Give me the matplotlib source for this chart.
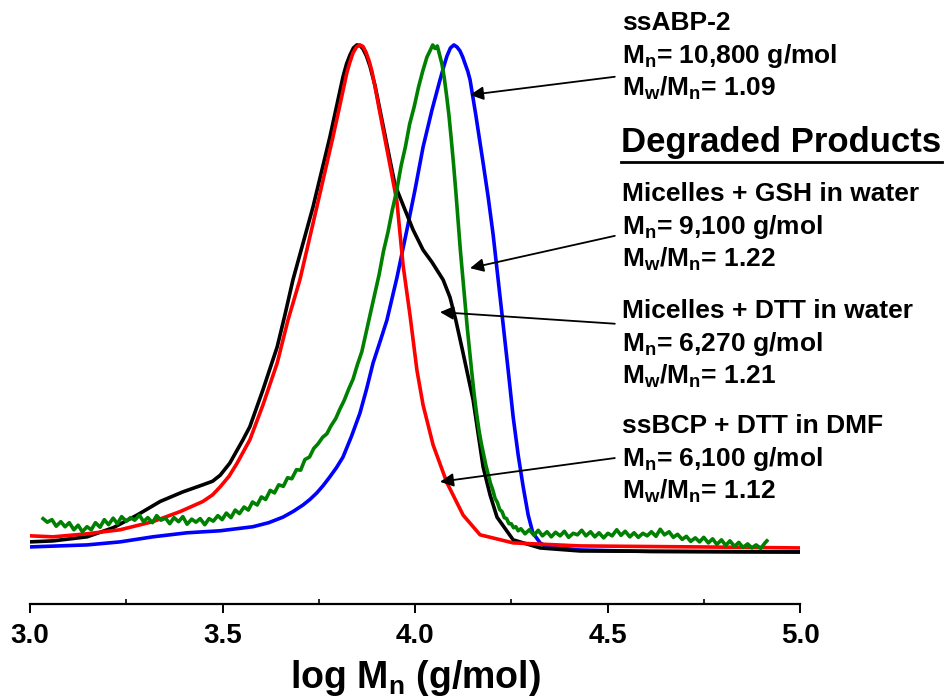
import matplotlib
matplotlib.use("Agg")
import matplotlib.pyplot as plt

plt.rcParams['font.family'] = ['Liberation Sans', 'DejaVu Sans']
plt.rcParams['font.weight'] = 'bold'
plt.rcParams['mathtext.fontset'] = 'custom'
plt.rcParams['mathtext.rm'] = 'Liberation Sans:bold'
plt.rcParams['mathtext.it'] = 'Liberation Sans:bold'
plt.rcParams['mathtext.bf'] = 'Liberation Sans:bold'
plt.rcParams['mathtext.default'] = 'regular'

# ssABP-2 (blue)
blue_x = [3.000, 3.148, 3.234, 3.319, 3.408, 3.494, 3.579, 3.620, 3.657, 3.683,
          3.709, 3.727, 3.745, 3.762, 3.779, 3.796, 3.813, 3.835, 3.857, 3.874,
          3.891, 3.909, 3.927, 3.953, 3.979, 4.000, 4.021, 4.044, 4.065,
          4.075, 4.083, 4.092, 4.101, 4.109, 4.117, 4.124, 4.130, 4.137, 4.143,
          4.158, 4.177, 4.190, 4.203, 4.216, 4.229, 4.242, 4.255, 4.268, 4.281,
          4.294, 4.306, 4.325, 4.343, 4.429, 4.610, 5.000]
blue_y = [0.006, 0.010, 0.016, 0.026, 0.034, 0.038, 0.046, 0.054, 0.065, 0.076,
          0.089, 0.100, 0.113, 0.128, 0.145, 0.163, 0.184, 0.225, 0.271, 0.318,
          0.370, 0.412, 0.455, 0.539, 0.634, 0.713, 0.798, 0.871, 0.931,
          0.958, 0.978, 0.994, 1.000, 0.996, 0.988, 0.976, 0.963, 0.948, 0.931,
          0.861, 0.766, 0.699, 0.624, 0.535, 0.446, 0.356, 0.263, 0.188, 0.125,
          0.069, 0.034, 0.014, 0.006, 0.000, -0.003, -0.004]

# ssBCP + DTT in DMF (red)
red_x = [3.000, 3.060, 3.148, 3.234, 3.319, 3.390, 3.449, 3.474, 3.494, 3.517,
         3.538, 3.571, 3.605, 3.642, 3.670, 3.701, 3.745, 3.787, 3.805, 3.823,
         3.831, 3.839, 3.848, 3.857, 3.865, 3.873, 3.881, 3.888, 3.898, 3.909,
         3.930, 3.953, 3.969, 3.987, 4.005, 4.021, 4.047, 4.083, 4.125, 4.169,
         4.255, 4.429, 4.740, 5.000]
red_y = [0.028, 0.026, 0.032, 0.040, 0.056, 0.076, 0.096, 0.109, 0.125, 0.146,
         0.172, 0.218, 0.287, 0.370, 0.455, 0.535, 0.679, 0.818, 0.881, 0.945,
         0.966, 0.984, 0.996, 1.000, 0.997, 0.985, 0.968, 0.948, 0.910, 0.865,
         0.782, 0.690, 0.564, 0.465, 0.356, 0.287, 0.208, 0.133, 0.069, 0.030,
         0.014, 0.008, 0.006, 0.004]

# Micelles + DTT in water (black)
black_x = [3.000, 3.060, 3.148, 3.216, 3.278, 3.338, 3.397, 3.449, 3.474, 3.494,
           3.519, 3.553, 3.571, 3.605, 3.642, 3.662, 3.683, 3.735, 3.779, 3.813,
           3.822, 3.831, 3.840, 3.849, 3.857, 3.865, 3.874, 3.883, 3.896, 3.909,
           3.935, 3.948, 3.969, 3.995, 4.021, 4.044, 4.073, 4.091, 4.106, 4.122,
           4.151, 4.177, 4.195, 4.213, 4.255, 4.325, 4.429, 5.000]
black_y = [0.016, 0.018, 0.026, 0.044, 0.069, 0.096, 0.115, 0.129, 0.136, 0.148,
           0.172, 0.218, 0.244, 0.317, 0.402, 0.465, 0.535, 0.679, 0.818, 0.937,
           0.962, 0.980, 0.994, 1.000, 0.999, 0.992, 0.978, 0.958, 0.920, 0.871,
           0.772, 0.723, 0.683, 0.634, 0.594, 0.570, 0.535, 0.500, 0.455, 0.400,
           0.297, 0.164, 0.109, 0.065, 0.020, 0.004, -0.002, -0.004]

# Micelles + GSH in water (green)
green_x = [3.034, 3.045, 3.057, 3.068, 3.080, 3.091, 3.102, 3.114, 3.125, 3.136,
           3.148, 3.159, 3.170, 3.182, 3.193, 3.204, 3.216, 3.227, 3.238, 3.250,
           3.261, 3.272, 3.284, 3.295, 3.306, 3.318, 3.329, 3.340, 3.352, 3.363,
           3.374, 3.386, 3.397, 3.408, 3.420, 3.431, 3.442, 3.454, 3.465, 3.476,
           3.488, 3.499, 3.510, 3.522, 3.533, 3.544, 3.556, 3.567, 3.578, 3.590,
           3.601, 3.612, 3.624, 3.635, 3.646, 3.658, 3.669, 3.680, 3.692, 3.703,
           3.714, 3.726, 3.737, 3.748, 3.760, 3.771, 3.782, 3.794, 3.805, 3.816,
           3.828, 3.839, 3.850, 3.862, 3.873, 3.884, 3.896, 3.907, 3.918, 3.930,
           3.941, 3.952, 3.964, 3.975, 3.986, 3.998, 4.009, 4.020, 4.031, 4.040,
           4.046, 4.052, 4.058, 4.064, 4.070, 4.076, 4.082, 4.088, 4.094, 4.100,
           4.106, 4.112, 4.118, 4.124, 4.130, 4.136, 4.142, 4.148, 4.154, 4.160,
           4.166, 4.172, 4.178, 4.184, 4.190, 4.196, 4.202, 4.208, 4.214, 4.220,
           4.226, 4.232, 4.238, 4.244, 4.250, 4.256, 4.262, 4.268, 4.275, 4.286,
           4.297, 4.309, 4.320, 4.331, 4.343, 4.354, 4.365, 4.377, 4.388, 4.399,
           4.411, 4.422, 4.433, 4.444, 4.456, 4.467, 4.478, 4.490, 4.501, 4.512,
           4.524, 4.535, 4.546, 4.558, 4.569, 4.580, 4.592, 4.603, 4.614, 4.626,
           4.637, 4.648, 4.660, 4.671, 4.682, 4.694, 4.705, 4.716, 4.728, 4.739,
           4.750, 4.762, 4.773, 4.784, 4.796, 4.807, 4.818, 4.830, 4.841, 4.852,
           4.864, 4.875, 4.886, 4.898, 4.909, 4.914]
green_y = [0.062, 0.055, 0.060, 0.047, 0.056, 0.046, 0.054, 0.040, 0.049, 0.036,
           0.046, 0.040, 0.054, 0.045, 0.060, 0.050, 0.063, 0.052, 0.066, 0.057,
           0.064, 0.059, 0.069, 0.056, 0.064, 0.054, 0.068, 0.059, 0.063, 0.052,
           0.064, 0.056, 0.066, 0.051, 0.061, 0.055, 0.062, 0.050, 0.062, 0.057,
           0.068, 0.060, 0.073, 0.064, 0.079, 0.072, 0.085, 0.079, 0.095, 0.089,
           0.105, 0.100, 0.118, 0.113, 0.129, 0.126, 0.143, 0.141, 0.159, 0.158,
           0.179, 0.184, 0.201, 0.210, 0.223, 0.230, 0.246, 0.260, 0.279, 0.296,
           0.319, 0.338, 0.366, 0.393, 0.431, 0.468, 0.509, 0.546, 0.591, 0.630,
           0.673, 0.710, 0.761, 0.798, 0.843, 0.878, 0.916, 0.948, 0.976, 0.990,
           1.000, 0.993, 0.998, 0.980, 0.962, 0.935, 0.900, 0.862, 0.815, 0.765,
           0.710, 0.650, 0.592, 0.540, 0.488, 0.438, 0.393, 0.348, 0.306, 0.270,
           0.238, 0.212, 0.190, 0.168, 0.150, 0.132, 0.119, 0.102, 0.094, 0.080,
           0.076, 0.064, 0.062, 0.052, 0.052, 0.044, 0.046, 0.038, 0.042, 0.032,
           0.040, 0.029, 0.039, 0.028, 0.036, 0.026, 0.035, 0.028, 0.037, 0.025,
           0.033, 0.030, 0.039, 0.028, 0.036, 0.026, 0.034, 0.024, 0.033, 0.028,
           0.040, 0.029, 0.037, 0.026, 0.034, 0.025, 0.033, 0.028, 0.036, 0.027,
           0.041, 0.030, 0.036, 0.025, 0.031, 0.021, 0.027, 0.017, 0.024, 0.016,
           0.025, 0.014, 0.022, 0.011, 0.020, 0.009, 0.018, 0.007, 0.015, 0.005,
           0.012, 0.004, 0.010, 0.003, 0.014, 0.018]

# annotation text blocks (baselines in pixels from the top of the figure)
labels = [
    ["ssABP-2", "M$_n$= 10,800 g/mol", "M$_w$/M$_n$= 1.09"],
    ["Micelles + GSH in water", "M$_n$= 9,100 g/mol", "M$_w$/M$_n$= 1.22"],
    ["Micelles + DTT in water", "M$_n$= 6,270 g/mol", "M$_w$/M$_n$= 1.21"],
    ["ssBCP + DTT in DMF", "M$_n$= 6,100 g/mol", "M$_w$/M$_n$= 1.12"],
]
label_base = [30, 201, 318, 433]
arrow_tail = [(4.519, 0.937), (4.519, 0.622), (4.519, 0.448), (4.519, 0.182)]
arrow_head = [(4.143, 0.901), (4.143, 0.558), (4.065, 0.471), (4.065, 0.135)]

W, H = 946, 700
fig = plt.figure(figsize=(W / 100, H / 100), dpi=100)
ax = fig.add_axes([30 / W, 96 / H, 770 / W, 604 / H])

ax.plot(blue_x, blue_y, color='#0000ff', lw=2.6)
ax.plot(black_x, black_y, color='black', lw=2.6)
ax.plot(red_x, red_y, color='#ff0000', lw=2.6)
ax.plot(green_x, green_y, color='#008000', lw=2.6)

ax.set_xlim(3.0, 5.0)
ax.set_ylim(-0.107, 1.089)

for side in ['left', 'right', 'top']:
    ax.spines[side].set_visible(False)
ax.spines['bottom'].set_linewidth(1.6)
ax.set_yticks([])
ax.set_xticks([3.0, 3.5, 4.0, 4.5, 5.0])
ax.set_xticks([3.25, 3.75, 4.25, 4.75], minor=True)
ax.set_xticklabels(["3.0", "3.5", "4.0", "4.5", "5.0"], fontsize=20, fontweight='bold')
ax.tick_params(axis='x', which='major', direction='out', length=6.5, width=1.4, pad=7)
ax.tick_params(axis='x', which='minor', direction='in', length=3.8, width=1.2)
ax.set_xlabel("log M$_n$ (g/mol)", fontsize=27, fontweight='bold', labelpad=7)

for lines, base in zip(labels, label_base):
    for i, line in enumerate(lines):
        fig.text(622 / W, 1 - (base + i * 33) / H, line, fontsize=19,
                 fontweight='bold', va='baseline', ha='left')

fig.text(621 / W, 1 - 152 / H, "Degraded Products", fontsize=25,
         fontweight='bold', va='baseline', ha='left')
fig.add_artist(plt.Line2D([621 / W, 942 / W], [1 - 162 / H, 1 - 162 / H],
                          color='black', lw=2.0))

for tail, head in zip(arrow_tail, arrow_head):
    ax.annotate("", xy=head, xytext=tail,
                arrowprops=dict(arrowstyle='-|>', color='black', lw=1.3,
                                mutation_scale=20, shrinkA=0, shrinkB=0))

fig.savefig("out.png", dpi=100)
